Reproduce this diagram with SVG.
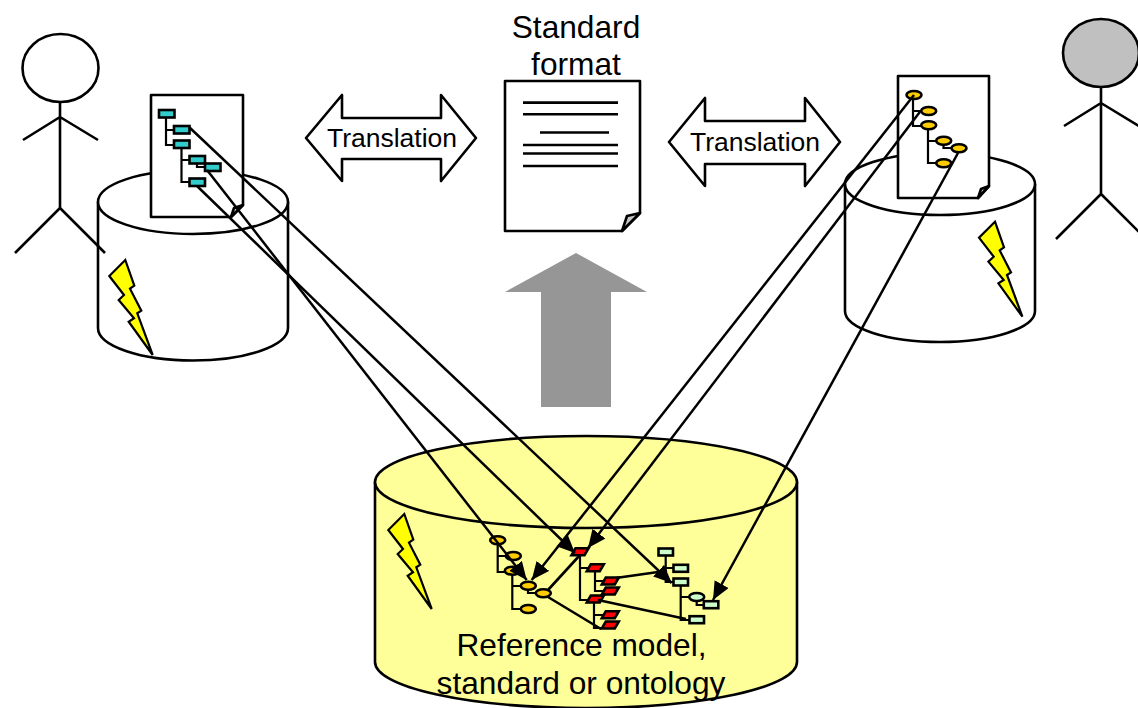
<svg xmlns="http://www.w3.org/2000/svg" xmlns:xlink="http://www.w3.org/1999/xlink" width="1138" height="708" viewBox="0 0 1138 708">
<style>
.o{fill:none;stroke:#000;stroke-width:2.6;stroke-linecap:butt;stroke-linejoin:round}
.s{fill:#fff;stroke:#000;stroke-width:2.6;stroke-linejoin:round}
.y{fill:#ffff99;stroke:#000;stroke-width:2.6;stroke-linejoin:round}
.t{fill:none;stroke:#000;stroke-width:2.2;stroke-linejoin:miter}
.teal{fill:#33cccc;stroke:#000;stroke-width:2.6}
.org{fill:#ffcc00;stroke:#000;stroke-width:2.6}
.red{fill:#ff0000;stroke:#000;stroke-width:2.6}
.grn{fill:#ccffcc;stroke:#000;stroke-width:2.6}
.fold{fill:#c8c8c8;stroke:#000;stroke-width:2.6;stroke-linejoin:round}
.bolt{fill:#ffff00;stroke:#000;stroke-width:2.2}
.c{stroke:#000;stroke-width:2.5;fill:none;marker-end:url(#ah)}
text{font-family:"Liberation Sans",Arial,sans-serif;fill:#000;text-anchor:middle}
.big{font-size:31.700px}
.mid{font-size:26.500px}
</style>
<defs>
<marker id="ah" markerUnits="userSpaceOnUse" markerWidth="20" markerHeight="18" refX="18" refY="8" orient="auto"><path d="M0 0L18 8L0 16z" fill="#000"/></marker>
<path id="bolt" class="bolt" d="M125.300 260L134.300 285.700L130 288.700L141.300 310.700L137.300 313.300L152.700 355L128.700 321.700L134 318.300L118.700 300L124 295L109.300 276z"/>
<g id="person"><path class="o" d="M60 102V208M23 140L60 117L98 140M15 253L60 208L105 253"/></g>
<path id="p" class="red" d="M-4.500 -3.500H8.500L4.500 3.500H-8.500z"/>
</defs>

<g id="db-left">
<path class="s" d="M98 202V328A95 32.500 0 0 0 288 328V202"/><ellipse class="s" cx="193" cy="202" rx="95" ry="32"/>
<use xlink:href="#bolt" href="#bolt"/>
</g>
<g id="db-right">
<path class="s" d="M845 184V311A95 31 0 0 0 1035 311V184"/><ellipse class="s" cx="940" cy="184" rx="95" ry="31"/>
<use xlink:href="#bolt" href="#bolt" x="869.700" y="-38.300"/>
</g>
<g id="user-left"><use xlink:href="#person" href="#person"/><ellipse class="s" cx="60.500" cy="68" rx="38" ry="34"/></g>
<g id="user-right"><use xlink:href="#person" href="#person" x="1041" y="-14"/><ellipse cx="1101" cy="53" rx="38" ry="34" fill="#c0c0c0" stroke="#000" stroke-width="2.600"/></g>

<g id="doc-left">
<path class="s" d="M151 95H243V205L231 217H151z"/><path class="fold" d="M231 217L234 208L243 205z"/>
<path class="t" d="M166 118V145H174M166 130H174M181.500 148V182H189.500M181.500 160H189.500M197 164V167H205"/>
<rect class="teal" x="159" y="110" width="15.500" height="7.500"/><rect class="teal" x="174" y="126" width="15.500" height="7.500"/><rect class="teal" x="174" y="140.500" width="15.500" height="7.500"/><rect class="teal" x="189.500" y="156" width="15.500" height="7.500"/><rect class="teal" x="205" y="163.500" width="15.500" height="7.500"/><rect class="teal" x="189.500" y="178.500" width="15.500" height="7.500"/>
</g>

<g id="doc-right">
<path class="s" d="M898 76H989V186L978 198H898z"/><path class="fold" d="M978 198L981 189L989 186z"/>
<path class="t" d="M913 99V126H921M913 111H921M928 129V163H936M928 141H936M943.500 144V148H951"/>
<ellipse class="org" cx="914" cy="95" rx="7.500" ry="4"/><ellipse class="org" cx="928.700" cy="111" rx="7.500" ry="4"/><ellipse class="org" cx="928.700" cy="125.300" rx="7.500" ry="4"/><ellipse class="org" cx="943.700" cy="140.700" rx="7.500" ry="4"/><ellipse class="org" cx="959" cy="148.300" rx="7.500" ry="4"/><ellipse class="org" cx="943.700" cy="163.300" rx="7.500" ry="4"/>
</g>

<g id="doc-standard">
<path class="s" d="M505 81H640V213L622 231H505z"/><path class="fold" d="M622 231L627 216L640 213z"/>
<path class="o" d="M523 102.600H618M523 114.300H618M540 132.500H609M523 145H618M523 153.500H618M523 166H618"/>
<text class="big" x="576" y="38">Standard</text><text class="big" x="576" y="75">format</text>
</g>

<g id="translate-left">
<path class="s" d="M306 138L342 95V118H441V95L476 138L441 181V159H342V181z"/><text class="mid" x="392" y="147">Translation</text>
</g>
<g id="translate-right">
<path class="s" d="M669 142L705 98V121H805V98L840 142L805 186V164H705V186z"/><text class="mid" x="755" y="151">Translation</text>
</g>
<g id="up-arrow"><path d="M576 253L647 292H611V407H541V292H505z" fill="#969696"/></g>

<g id="db-reference">
<path class="y" d="M375 482V662A211 46 0 0 0 797 662V482"/><ellipse class="y" cx="586" cy="482" rx="211" ry="46"/>
<use xlink:href="#bolt" href="#bolt" x="279" y="254"/>
<text class="big" x="581.500" y="656">Reference model,</text><text class="big" x="581" y="694">standard or ontology</text>
</g>

<g id="tree-orange">
<path class="t" d="M497.700 544V572H505M497.700 556H506M512.300 574V609H521M512.300 586H521M528 589V593H536"/>
<ellipse class="org" cx="497.700" cy="540.300" rx="7.500" ry="4"/><ellipse class="org" cx="513.300" cy="556" rx="7.500" ry="4"/><ellipse class="org" cx="512.300" cy="570.700" rx="7.500" ry="4"/><ellipse class="org" cx="528.300" cy="585.700" rx="7.500" ry="4"/><ellipse class="org" cx="543.300" cy="593.300" rx="7.500" ry="4"/><ellipse class="org" cx="528.300" cy="609" rx="7.500" ry="4"/>
</g>
<g id="tree-red">
<path class="t" d="M580 555V600H590M580 568H590M595 571V591H605M595 581H604M594 603V628H605M594 615H604"/>
<use xlink:href="#p" href="#p" x="580" y="551.700"/><use xlink:href="#p" href="#p" x="595.300" y="567.700"/><use xlink:href="#p" href="#p" x="610.300" y="581"/><use xlink:href="#p" href="#p" x="610.300" y="591"/><use xlink:href="#p" href="#p" x="595.300" y="599"/><use xlink:href="#p" href="#p" x="610.300" y="614.700"/><use xlink:href="#p" href="#p" x="610.300" y="625"/>
</g>
<g id="tree-green">
<path class="t" d="M665.700 555V582H674M665.700 568H674M680.700 586V620H690M680.700 597H690M696.700 601V605H704"/>
<rect class="grn" x="658.500" y="548.500" width="14.500" height="7"/><rect class="grn" x="673.500" y="564.800" width="14.500" height="7"/><rect class="grn" x="673.500" y="578.500" width="14.500" height="7"/><ellipse class="grn" cx="696.700" cy="597" rx="7.500" ry="4"/><rect class="grn" x="703.800" y="601.200" width="14.500" height="7"/><rect class="grn" x="689.500" y="616.200" width="14.500" height="7"/>
</g>

<g id="connectors">
<path class="o" d="M548 590L580 555M548 597L601 629M615.700 578L667 570.700M598 600L686 619"/>
<line class="c" x1="189" y1="127" x2="671.700" y2="583"/>
<line class="c" x1="207" y1="170" x2="526.700" y2="580"/>
<line class="c" x1="197" y1="186" x2="575" y2="553"/>
<line class="c" x1="914" y1="95" x2="531.700" y2="580"/>
<line class="c" x1="920" y1="111.700" x2="588" y2="548"/>
<line class="c" x1="958" y1="153" x2="713" y2="600"/>
</g>
</svg>
